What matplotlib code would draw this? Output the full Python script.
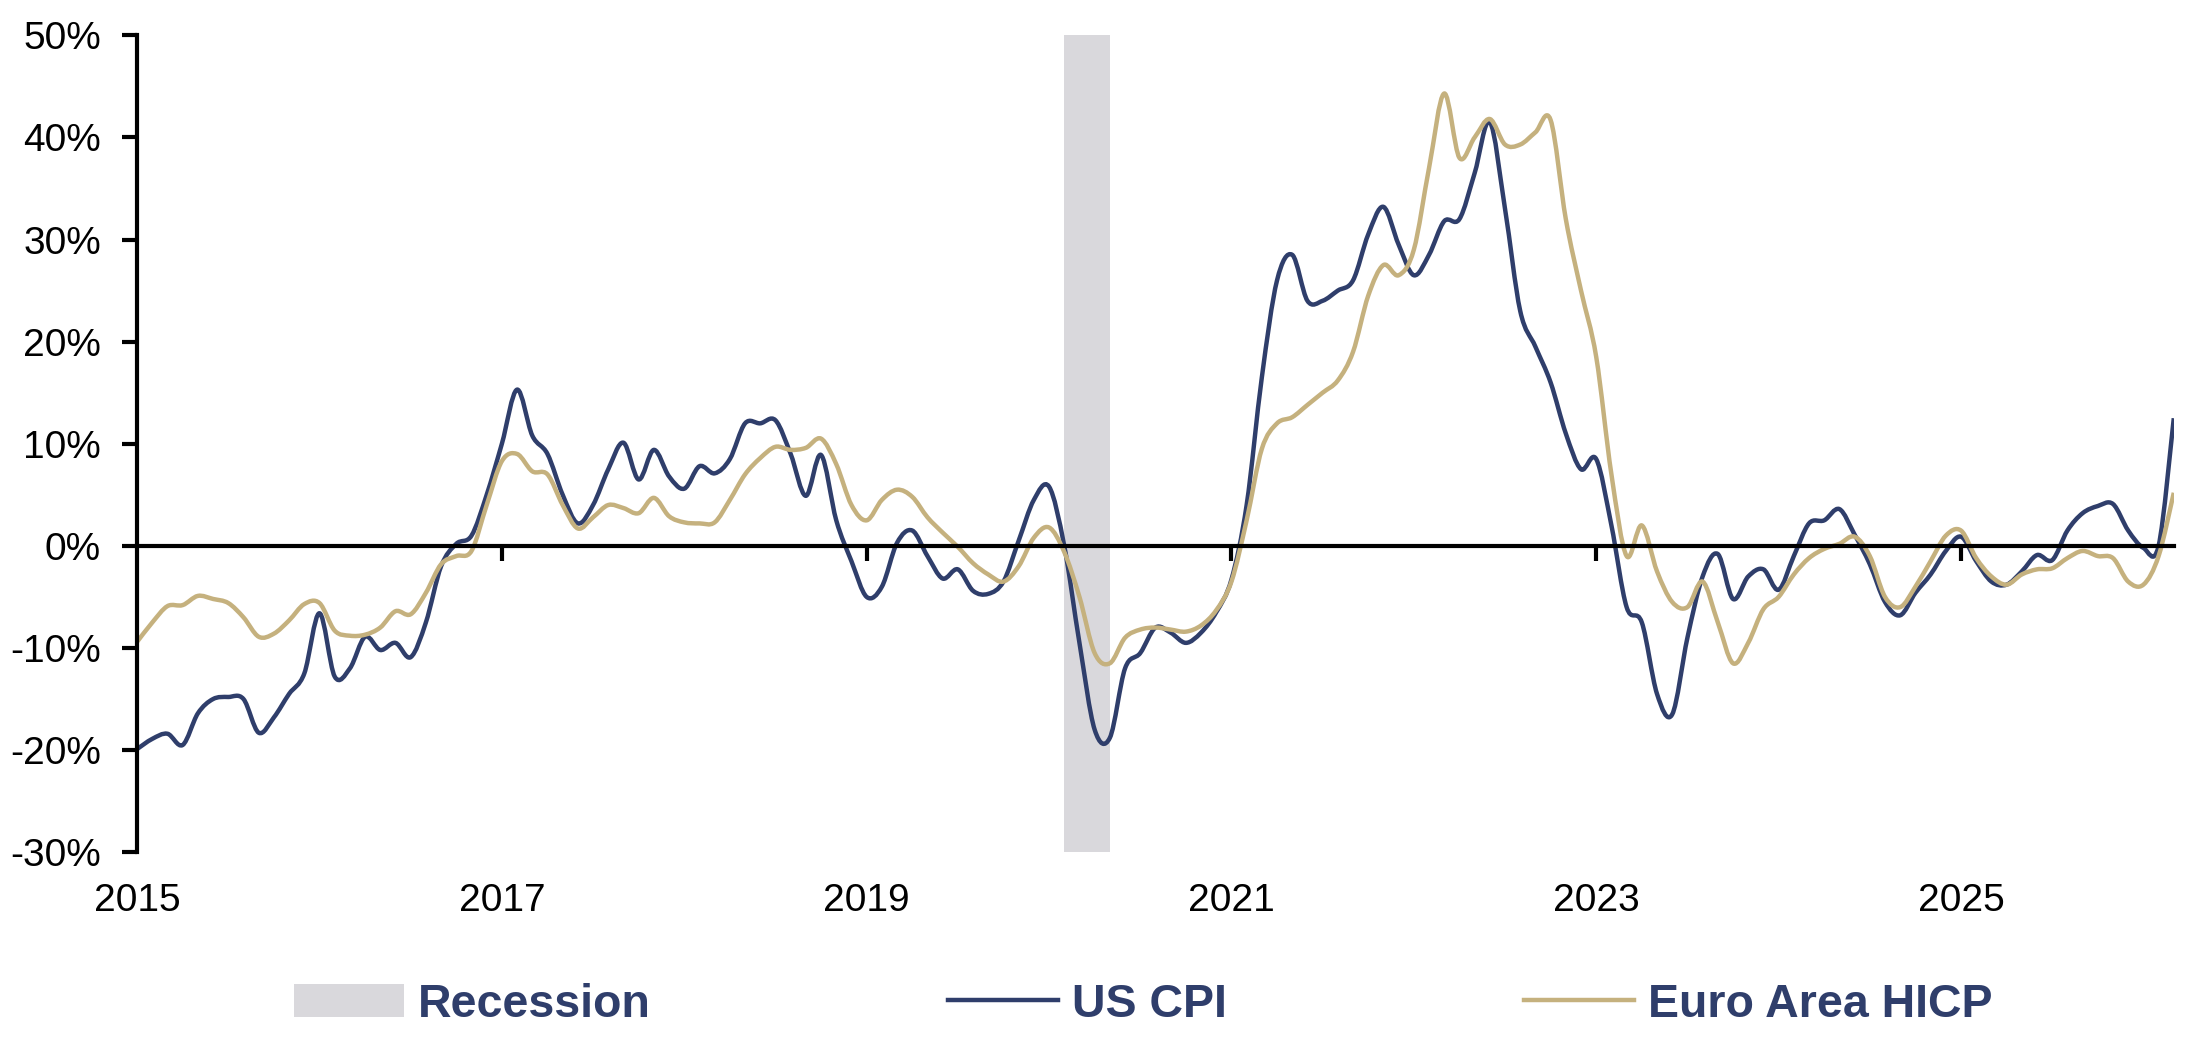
import numpy as np
import matplotlib
matplotlib.use("Agg")
import matplotlib.pyplot as plt
from matplotlib.ticker import FuncFormatter
from matplotlib.patches import Patch, PathPatch
from matplotlib.lines import Line2D
from matplotlib.path import Path

plt.rcParams['font.family'] = ['Liberation Sans', 'DejaVu Sans']

# monthly readings, Jan 2015 .. Mar 2026 (% change)
us_cpi = [
    -19.9, -18.9, -18.4, -19.5, -16.4, -15.0, -14.8, -15.0, -18.3, -16.8,
    -14.5, -12.5, -6.6, -12.8, -12.0, -8.9, -10.2, -9.5, -10.9, -7.5,
    -2.0, 0.2, 1.0, 5.0, 10.0, 15.3, 10.8, 9.0, 5.0, 2.2,
    4.0, 7.5, 10.1, 6.5, 9.4, 6.8, 5.6, 7.8, 7.1, 8.5,
    12.0, 12.0, 12.3, 9.0, 4.9, 8.9, 2.5, -1.5, -5.0, -4.0,
    0.3, 1.5, -1.0, -3.2, -2.3, -4.4, -4.7, -3.5, 0.5, 4.5,
    5.8, 0.0, -9.5, -18.0, -18.8, -12.0, -10.5, -8.0, -8.5, -9.5,
    -8.5, -6.5, -3.3, 4.0, 16.5, 26.0, 28.5, 24.0, 24.0, 25.0,
    26.0, 30.5, 33.2, 29.5, 26.5, 28.5, 31.8, 32.0, 36.5, 41.5,
    33.0, 23.0, 19.5, 16.0, 11.0, 7.5, 8.5, 2.0, -6.0, -7.5,
    -14.5, -16.5, -9.0, -3.0, -0.8, -5.2, -3.0, -2.3, -4.3, -1.0,
    2.2, 2.5, 3.6, 1.1, -1.8, -5.5, -6.8, -4.6, -2.8, -0.5,
    0.9, -1.5, -3.5, -3.8, -2.5, -0.9, -1.4, 1.5, 3.2, 3.9,
    4.1, 1.5, -0.2, 0.0, 12.5,
]

euro_hicp = [
    -9.4, -7.5, -5.9, -5.8, -4.9, -5.2, -5.6, -7.0, -8.9, -8.6,
    -7.3, -5.7, -5.6, -8.3, -8.8, -8.7, -8.0, -6.4, -6.7, -4.6,
    -1.8, -1.0, -0.5, 4.0, 8.3, 9.0, 7.3, 7.0, 4.0, 1.7,
    2.8, 4.0, 3.7, 3.2, 4.7, 2.9, 2.3, 2.2, 2.3, 4.5,
    7.0, 8.6, 9.7, 9.4, 9.6, 10.5, 8.0, 4.0, 2.5, 4.5,
    5.5, 4.8, 2.8, 1.3, -0.1, -1.7, -2.8, -3.5, -2.0, 0.8,
    1.8, -0.6, -5.0, -10.5, -11.5, -9.0, -8.2, -8.0, -8.2, -8.4,
    -7.8, -6.3, -3.5, 2.5, 9.5, 12.0, 12.6, 13.8, 15.0, 16.2,
    19.0, 24.5, 27.5, 26.5, 29.0, 37.0, 44.3, 38.0, 40.0, 41.8,
    39.3, 39.3, 40.5, 41.7, 32.0, 25.0, 18.5, 7.0, -1.0, 2.0,
    -2.5, -5.5, -6.0, -3.5, -7.5, -11.5, -9.5, -6.2, -5.0, -2.8,
    -1.2, -0.3, 0.2, 0.9, -1.0, -5.0, -6.0, -4.0, -1.5, 1.0,
    1.5, -1.2, -3.0, -3.8, -2.8, -2.3, -2.2, -1.2, -0.5, -1.0,
    -1.2, -3.5, -3.8, -1.0, 5.2,
]

start_year = 2015
recession = [(2020 + 1 / 12, 2020 + 4 / 12)]
year_ticks = [2015, 2017, 2019, 2021, 2023, 2025]
pct_ticks = [-30, -20, -10, 0, 10, 20, 30, 40, 50]

navy = '#2F3E6B'
tan = '#C5B17E'
grey = '#D9D8DC'
lw = 3.2

x = start_year + np.arange(len(us_cpi)) / 12


def smooth_path(xs, ys):
    # smoothed-line look: cubic Bezier segments through every data point
    pts = np.column_stack([xs, ys])
    verts = [pts[0]]
    codes = [Path.MOVETO]
    n = len(pts)
    for i in range(n - 1):
        p0 = pts[max(i - 1, 0)]
        p1 = pts[i]
        p2 = pts[i + 1]
        p3 = pts[min(i + 2, n - 1)]
        verts += [p1 + (p2 - p0) / 6, p2 - (p3 - p1) / 6, p2]
        codes += [Path.CURVE4] * 3
    return Path(verts, codes)


fig = plt.figure(figsize=(21.9, 10.38), dpi=100)
ax = fig.add_axes([0.0626, 0.179, 0.930, 0.787])

for a, b in recession:
    ax.axvspan(a, b, color=grey, lw=0, zorder=0)

for series, col in [(us_cpi, navy), (euro_hicp, tan)]:
    ax.add_patch(PathPatch(smooth_path(x, np.array(series)), fill=False,
                           edgecolor=col, lw=lw, joinstyle='round', zorder=2))

ax.set_xlim(start_year, x[-1])
ax.set_ylim(-30, 50)

for s in ['top', 'right']:
    ax.spines[s].set_visible(False)
ax.spines['bottom'].set_position(('data', 0))
ax.spines['bottom'].set_linewidth(3)
ax.spines['left'].set_linewidth(3)

ax.set_yticks(pct_ticks)
ax.yaxis.set_major_formatter(FuncFormatter(lambda v, p: f"{v:.0f}%"))
ax.tick_params(axis='y', direction='out', length=11, width=3, pad=15, labelsize=28)
ax.set_xticks(year_ticks[1:])
ax.tick_params(axis='x', direction='out', length=11, width=3, labelbottom=False)

sec = ax.secondary_xaxis('bottom')
sec.set_xticks(year_ticks)
sec.set_xticklabels([str(y) for y in year_ticks])
sec.spines['bottom'].set_visible(False)
sec.tick_params(length=0, pad=22, labelsize=28)

handles = [
    Patch(facecolor=grey, edgecolor='none', label='Recession'),
    Line2D([], [], color=navy, lw=lw, label='US CPI'),
    Line2D([], [], color=tan, lw=lw, label='Euro Area HICP'),
]
leg = fig.legend(handles=handles, loc='center', bbox_to_anchor=(0.522, 0.032), ncol=3,
                 frameon=False, prop={'weight': 'bold', 'size': 33.5},
                 handlelength=2.35, handleheight=0.7, handletextpad=0.3,
                 columnspacing=6.4, borderaxespad=0)
for t in leg.get_texts():
    t.set_color(navy)

fig.savefig('out.png', dpi=100)
